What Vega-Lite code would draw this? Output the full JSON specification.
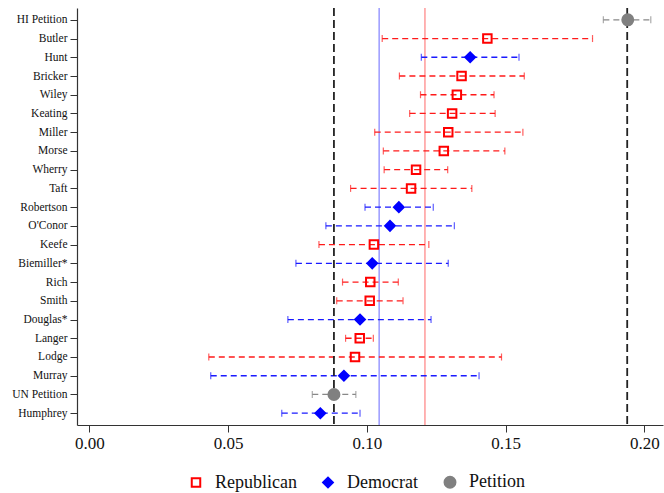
{
  "$schema": "https://vega.github.io/schema/vega-lite/v6.json",
  "width": 586,
  "height": 417,
  "autosize": {"type": "none"},
  "padding": {"left": 77, "top": 8, "right": 1, "bottom": 68},
  "config": {
    "view": {"stroke": null},
    "font": "Liberation Serif",
    "axis": {"grid": false, "domainColor": "#333", "tickColor": "#333", "labelColor": "#111", "labelFont": "Liberation Serif", "titleFont": "Liberation Serif"},
    "legend": {"labelFont": "Liberation Serif"}
  },
  "datasets": {
    "est": [
      {"name": "HI Petition", "party": "Petition", "est": 0.194, "lo": 0.1852, "hi": 0.2023},
      {"name": "Butler", "party": "Republican", "est": 0.1434, "lo": 0.1055, "hi": 0.1813},
      {"name": "Hunt", "party": "Democrat", "est": 0.1372, "lo": 0.1196, "hi": 0.1548},
      {"name": "Bricker", "party": "Republican", "est": 0.1341, "lo": 0.1117, "hi": 0.1567},
      {"name": "Wiley", "party": "Republican", "est": 0.1324, "lo": 0.1193, "hi": 0.1458},
      {"name": "Keating", "party": "Republican", "est": 0.1307, "lo": 0.1154, "hi": 0.1462},
      {"name": "Miller", "party": "Republican", "est": 0.1293, "lo": 0.1028, "hi": 0.1562},
      {"name": "Morse", "party": "Republican", "est": 0.1277, "lo": 0.1059, "hi": 0.1497},
      {"name": "Wherry", "party": "Republican", "est": 0.1177, "lo": 0.1062, "hi": 0.1291},
      {"name": "Taft", "party": "Republican", "est": 0.1159, "lo": 0.0941, "hi": 0.1378},
      {"name": "Robertson", "party": "Democrat", "est": 0.1115, "lo": 0.0993, "hi": 0.1239},
      {"name": "O'Conor", "party": "Democrat", "est": 0.1083, "lo": 0.0852, "hi": 0.1315},
      {"name": "Keefe", "party": "Republican", "est": 0.1025, "lo": 0.0827, "hi": 0.1223},
      {"name": "Biemiller*", "party": "Democrat", "est": 0.1019, "lo": 0.0744, "hi": 0.1293},
      {"name": "Rich", "party": "Republican", "est": 0.1012, "lo": 0.0912, "hi": 0.1113},
      {"name": "Smith", "party": "Republican", "est": 0.101, "lo": 0.0891, "hi": 0.113},
      {"name": "Douglas*", "party": "Democrat", "est": 0.0975, "lo": 0.0715, "hi": 0.1231},
      {"name": "Langer", "party": "Republican", "est": 0.0974, "lo": 0.0923, "hi": 0.1023},
      {"name": "Lodge", "party": "Republican", "est": 0.0957, "lo": 0.043, "hi": 0.1485},
      {"name": "Murray", "party": "Democrat", "est": 0.0917, "lo": 0.0437, "hi": 0.1404},
      {"name": "UN Petition", "party": "Petition", "est": 0.0881, "lo": 0.0803, "hi": 0.096},
      {"name": "Humphrey", "party": "Democrat", "est": 0.0832, "lo": 0.0693, "hi": 0.0975}
    ],
    "petitions": [
      {"kind": "UN", "value": 0.0881},
      {"kind": "HI", "value": 0.1938}
    ]
  },
  "layer": [
    {
      "data": {"values": [{"kind": "Democrat mean", "value": 0.1044}]},
      "mark": {"type": "rule", "strokeWidth": 1.5, "color": "#9a9aff"},
      "encoding": {
        "x": {"field": "value", "type": "quantitative"}
      }
    },
    {
      "data": {"values": [{"kind": "Republican mean", "value": 0.1209}]},
      "mark": {"type": "rule", "strokeWidth": 1.5, "color": "#ff9a9a"},
      "encoding": {
        "x": {"field": "value", "type": "quantitative"}
      }
    },
    {
      "data": {"name": "est"},
      "mark": {"type": "rule", "strokeWidth": 1.3, "strokeDash": [6, 4]},
      "encoding": {
        "y": {"field": "name", "type": "nominal", "sort": null},
        "x": {"field": "lo", "type": "quantitative"},
        "x2": {"field": "hi"},
        "color": {"field": "party", "type": "nominal", "scale": {"domain": ["Democrat", "Petition", "Republican"], "range": ["#1a1aff", "#888888", "#ff1a1a"]}, "legend": null}
      }
    },
    {
      "data": {"name": "est"},
      "mark": {"type": "tick", "size": 7, "thickness": 1.2},
      "encoding": {
        "y": {"field": "name", "type": "nominal", "sort": null},
        "x": {"field": "lo", "type": "quantitative"},
        "color": {"field": "party", "type": "nominal", "legend": null}
      }
    },
    {
      "data": {"name": "est"},
      "mark": {"type": "tick", "size": 7, "thickness": 1.2},
      "encoding": {
        "y": {"field": "name", "type": "nominal", "sort": null},
        "x": {"field": "hi", "type": "quantitative"},
        "color": {"field": "party", "type": "nominal", "legend": null}
      }
    },
    {
      "data": {"name": "petitions"},
      "mark": {"type": "rule", "strokeWidth": 1.8, "strokeDash": [8, 4], "color": "#222"},
      "encoding": {
        "x": {"field": "value", "type": "quantitative"}
      }
    },
    {
      "data": {"name": "est"},
      "mark": {"type": "point", "strokeWidth": 2, "opacity": 1},
      "encoding": {
        "y": {
          "field": "name", "type": "nominal",
          "sort": null,
          "scale": {"type": "point", "padding": 0.63},
          "axis": {"title": null, "labelFont": "Liberation Serif", "labelFontSize": 11.5, "tickSize": 7, "labelPadding": 3, "domainWidth": 1.2}
        },
        "x": {
          "field": "est", "type": "quantitative",
          "scale": {"domain": [-0.0045, 0.2067], "nice": false, "zero": false},
          "axis": {"title": null, "labelFont": "Liberation Serif", "values": [0, 0.05, 0.1, 0.15, 0.2], "format": ".2f", "labelFontSize": 17, "tickSize": 7, "labelPadding": 3, "domainWidth": 1.2}
        },
        "shape": {"field": "party", "type": "nominal", "scale": {"domain": ["Republican", "Democrat", "Petition"], "range": ["square", "diamond", "circle"]}, "legend": {"title": null, "orient": "none", "legendX": 110, "legendY": 465, "direction": "horizontal", "labelFont": "Liberation Serif", "labelFontSize": 18, "labelColor": "#111", "symbolStrokeWidth": 2, "columnPadding": 22, "labelOffset": 10}},
        "fill": {"field": "party", "type": "nominal", "scale": {"domain": ["Republican", "Democrat", "Petition"], "range": ["transparent", "#0000ff", "#808080"]}, "legend": {"title": null, "orient": "none", "legendX": 110, "legendY": 465, "direction": "horizontal", "labelFont": "Liberation Serif", "labelFontSize": 18, "labelColor": "#111", "symbolStrokeWidth": 2, "columnPadding": 22, "labelOffset": 10}},
        "stroke": {"field": "party", "type": "nominal", "scale": {"domain": ["Republican", "Democrat", "Petition"], "range": ["#ff0000", "#0000ff", "#808080"]}, "legend": {"title": null, "orient": "none", "legendX": 110, "legendY": 465, "direction": "horizontal", "labelFont": "Liberation Serif", "labelFontSize": 18, "labelColor": "#111", "symbolStrokeWidth": 2, "columnPadding": 22, "labelOffset": 10}},
        "size": {"field": "party", "type": "nominal", "scale": {"domain": ["Republican", "Democrat", "Petition"], "range": [72, 120, 120]}, "legend": {"title": null, "orient": "none", "legendX": 110, "legendY": 465, "direction": "horizontal", "labelFont": "Liberation Serif", "labelFontSize": 18, "labelColor": "#111", "symbolStrokeWidth": 2, "columnPadding": 22, "labelOffset": 10}}
      }
    }
  ]
}
